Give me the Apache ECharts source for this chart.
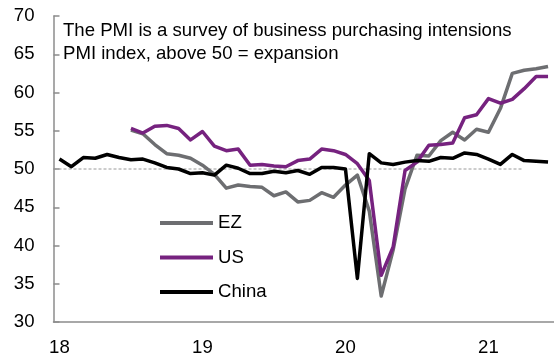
<!DOCTYPE html>
<html>
<head>
<meta charset="utf-8">
<script src="https://cdn.jsdelivr.net/npm/echarts@6/dist/echarts.min.js"></script>
<style>
html,body{margin:0;padding:0;background:#fff;}
#chart{width:554px;height:359px;}
</style>
</head>
<body>
<div id="chart"></div>
<script>
// Monthly categories Jan 2018 .. Jun 2021
const months = [
 '2018-01','2018-02','2018-03','2018-04','2018-05','2018-06','2018-07','2018-08','2018-09','2018-10','2018-11','2018-12',
 '2019-01','2019-02','2019-03','2019-04','2019-05','2019-06','2019-07','2019-08','2019-09','2019-10','2019-11','2019-12',
 '2020-01','2020-02','2020-03','2020-04','2020-05','2020-06','2020-07','2020-08','2020-09','2020-10','2020-11','2020-12',
 '2021-01','2021-02','2021-03','2021-04','2021-05','2021-06'
];
const ez = [null,null,null,null,null,null,
 55.1,54.6,53.2,52.0,51.8,51.4,
 50.5,49.3,47.5,47.9,47.7,47.6,46.5,47.0,45.7,45.9,46.9,46.3,
 47.9,49.2,44.5,33.4,39.4,47.4,51.8,51.7,53.7,54.8,53.8,55.2,
 54.8,57.9,62.5,62.9,63.1,63.4];
const us = [null,null,null,null,null,null,
 55.3,54.7,55.6,55.7,55.3,53.8,
 54.9,53.0,52.4,52.6,50.5,50.6,50.4,50.3,51.1,51.3,52.6,52.4,
 51.9,50.7,48.5,36.1,39.8,49.8,50.9,53.1,53.2,53.4,56.7,57.1,
 59.2,58.6,59.1,60.5,62.1,62.1];
const china = [
 51.3,50.3,51.5,51.4,51.9,51.5,51.2,51.3,50.8,50.2,50.0,49.4,
 49.5,49.2,50.5,50.1,49.4,49.4,49.7,49.5,49.8,49.3,50.2,50.2,
 50.0,35.7,52.0,50.8,50.6,50.9,51.1,51.0,51.5,51.4,52.1,51.9,
 51.3,50.6,51.9,51.1,51.0,50.9];
const yearLabels = ['18','19','20','21'];
const refLine = [[0,50],[39.4,50]]; // dashed 50 line (in month units from axis start)
const note = ['The PMI is a survey of business purchasing intensions','PMI index, above 50 = expansion'];

const FONT = '"Liberation Sans", Arial, sans-serif';
const FS = 18.6;
const chart = echarts.init(document.getElementById('chart'), null, {renderer:'canvas'});
chart.setOption({
  animation:false,
  backgroundColor:'#fff',
  textStyle:{fontFamily:FONT},
  title:{
    text: note.join('\n'),
    left: 63, top: 19, padding:0,
    textStyle:{fontFamily:FONT, fontSize:FS, fontWeight:'normal', color:'#000', lineHeight:23.5}
  },
  legend:{
    orient:'vertical', left:160, top:213, padding:0,
    itemWidth:53, itemHeight:4, itemGap:14.5,
    icon:'rect',
    textStyle:{fontFamily:FONT, fontSize:FS, color:'#000', lineHeight:20},
    data:['EZ','US','China']
  },
  grid:{left:53.5, right:0, top:16, bottom:37, containLabel:false},
  xAxis:[{
    type:'category', data:months, boundaryGap:true,
    axisLine:{lineStyle:{color:'#8c8c8c', width:1.5}},
    axisTick:{inside:true, length:6, alignWithLabel:false, interval:(i)=>i%12===0, lineStyle:{color:'#8c8c8c', width:1.5}},
    axisLabel:{interval:(i)=>i%12===0, formatter:(v,i)=>yearLabels[Math.floor(i/12)], margin:16,
      fontFamily:FONT, fontSize:FS, color:'#000'},
    splitLine:{show:false}
  },{
    type:'value', min:0, max:42, show:false
  }],
  yAxis:{
    type:'value', min:30, max:70, interval:5,
    axisLine:{show:true, lineStyle:{color:'#8c8c8c', width:1.5}},
    axisTick:{show:true, inside:true, length:6, lineStyle:{color:'#8c8c8c', width:1.5}},
    axisLabel:{margin:19, fontFamily:FONT, fontSize:FS, color:'#000'},
    splitLine:{show:false}
  },
  series:[
    {name:'ref', type:'line', xAxisIndex:1, data:refLine, symbol:'none', silent:true,
     lineStyle:{color:'#9a9a9a', width:1, type:[3,2]}, z:1},
    {name:'EZ', type:'line', data:ez, symbol:'none', connectNulls:false,
     itemStyle:{color:'#6d6e71'}, lineStyle:{color:'#6d6e71', width:3.5, join:'round'}, z:2},
    {name:'US', type:'line', data:us, symbol:'none',
     itemStyle:{color:'#76227f'}, lineStyle:{color:'#76227f', width:3.5, join:'round'}, z:3},
    {name:'China', type:'line', data:china, symbol:'none',
     itemStyle:{color:'#000'}, lineStyle:{color:'#000', width:3.5, join:'round'}, z:4}
  ]
});
</script>
</body>
</html>
